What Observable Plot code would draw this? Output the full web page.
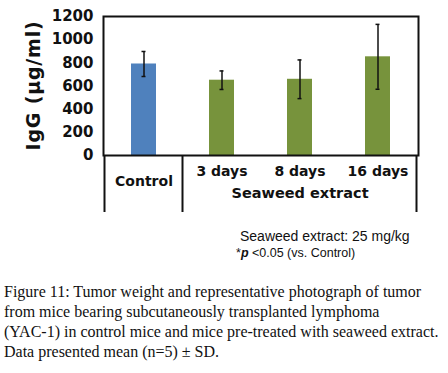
<!DOCTYPE html>
<html>
<head>
<meta charset="utf-8">
<script src="https://cdn.jsdelivr.net/npm/d3@7"></script>
<script src="https://cdn.jsdelivr.net/npm/@observablehq/plot@0.6"></script>
<style>
  html, body { margin: 0; padding: 0; background: #fff; }
  #wrap { position: relative; width: 448px; height: 373px; overflow: hidden; }
  #chart svg { display: block; }
  .note { position: absolute; font-family: "Liberation Sans", Arial, sans-serif; color: #111; white-space: nowrap; }
  #note1 { left: 240px; top: 228px; font-size: 14px; }
  #note2 { left: 236px; top: 246px; font-size: 12.5px; }
  #caption { position: absolute; left: 4px; top: 282px; font-family: "Liberation Serif", "Times New Roman", serif; font-size: 16px; line-height: 20px; color: #111; white-space: pre; }
</style>
</head>
<body>
<div id="wrap">
  <div id="chart"></div>
  <div class="note" id="note1"></div>
  <div class="note" id="note2"></div>
  <div id="caption"></div>
</div>
<script>
const categories = ["Control", "3 days", "8 days", "16 days"];
const means = [790, 650, 658, 852];
const sds = [108, 80, 167, 280];
const groups = ["Control", "Seaweed extract", "Seaweed extract", "Seaweed extract"];
const groupNames = ["Control", "Seaweed extract"];
const groupColors = ["#4f81bd", "#77933c"];
const yTicks = [0, 200, 400, 600, 800, 1000, 1200];
const yLabel = "IgG (μg/ml)";
const treatedLabel = "Seaweed extract";
const note1 = "Seaweed extract: 25 mg/kg";
const note2 = ["*", "p", " <0.05 (vs. Control)"];
const captionLines = [
  "Figure 11: Tumor weight and representative photograph of tumor",
  "from mice bearing subcutaneously transplanted lymphoma",
  "(YAC-1) in control mice and mice pre-treated with seaweed extract.",
  "Data presented mean (n=5) ± SD."
];

const data = categories.map((c, i) => ({cat: c, mean: means[i], sd: sds[i], group: groups[i]}));
const W = 448, H = 215;
const font = "DejaVu Sans, Verdana, sans-serif";

const chart = Plot.plot({
  width: W,
  height: H,
  marginTop: 16,
  marginBottom: 60,
  marginLeft: 103,
  marginRight: 30,
  style: {fontFamily: font, background: "white", color: "#111"},
  x: {domain: categories, paddingInner: 0.68, paddingOuter: 0.34, axis: null},
  y: {domain: [0, 1200], label: null},
  color: {domain: groupNames, range: groupColors},
  marks: [
    Plot.barY(data, {x: "cat", y: "mean", fill: "group"}),
    Plot.ruleX(data, {x: "cat", y1: d => d.mean - d.sd, y2: d => d.mean + d.sd, stroke: "#111", strokeWidth: 1.5}),
    Plot.tickY(data, {x: "cat", y: d => d.mean + d.sd, stroke: "#111", strokeWidth: 1.5, insetLeft: 10.5, insetRight: 10.5}),
    Plot.tickY(data, {x: "cat", y: d => d.mean - d.sd, stroke: "#111", strokeWidth: 1.5, insetLeft: 10.5, insetRight: 10.5}),
    Plot.frame({stroke: "#111", strokeWidth: 2}),
    Plot.axisY({ticks: yTicks, tickSize: 0, tickPadding: 10, fontSize: 15, fontWeight: "bold", label: null, tickFormat: d => String(d)}),
    Plot.text(data.filter(d => d.group !== "Control"), {x: "cat", text: "cat", frameAnchor: "bottom", dy: 20, fontSize: 14, fontWeight: "bold", fill: "#111"}),
    Plot.text(data.filter(d => d.group === "Control"), {x: "cat", text: "cat", frameAnchor: "bottom", dy: 30, fontSize: 14, fontWeight: "bold", fill: "#111"}),
    Plot.text([treatedLabel], {x: () => categories[2], text: d => d, frameAnchor: "bottom", dy: 42, fontSize: 14.5, fontWeight: "bold", fill: "#111"})
  ]
});

// category box lines below the axis, derived from the scales
const xs = chart.scale("x");
const ys = chart.scale("y");
const gap = (xs.step - xs.bandwidth) / 2;
const y0 = ys.apply(0);
const edges = [
  xs.apply(categories[0]) - gap,
  xs.apply(categories[1]) - gap,
  xs.apply(categories[3]) + xs.bandwidth + gap
];
const svg = d3.select(chart);
svg.append("g").selectAll("line").data(edges).join("line")
  .attr("x1", d => d).attr("x2", d => d)
  .attr("y1", y0).attr("y2", H - 3)
  .attr("stroke", "#111").attr("stroke-width", 2);
// y axis title
svg.append("text")
  .attr("transform", `translate(33,${(ys.range[0] + ys.range[1]) / 2}) rotate(-90)`)
  .attr("text-anchor", "middle").attr("dominant-baseline", "central")
  .attr("font-family", font).attr("font-weight", "bold").attr("font-size", 19)
  .attr("letter-spacing", 0.8).attr("fill", "#111")
  .text(yLabel);

document.getElementById("chart").appendChild(chart);
document.getElementById("note1").textContent = note1;
const n2 = document.getElementById("note2");
n2.append(note2[0]);
const pi = document.createElement("i"); pi.style.fontWeight = "bold"; pi.textContent = note2[1]; n2.append(pi);
n2.append(note2[2]);
document.getElementById("caption").textContent = captionLines.join("\n");
</script>
</body>
</html>
